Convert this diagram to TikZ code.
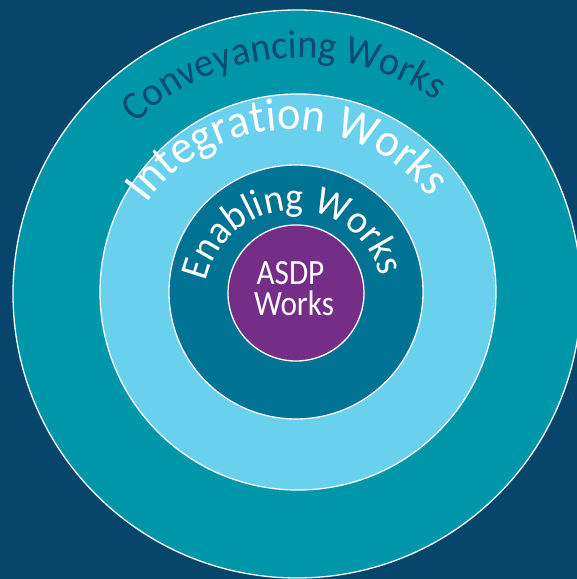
\documentclass[tikz,border=0pt]{standalone}
\usepackage{fontspec}
\setmainfont{Carlito}
\newfontfamily\arcfont[FakeStretch=0.95]{Carlito}
\newfontfamily\corefont[FakeStretch=0.88]{Carlito}
\usetikzlibrary{decorations.text}

\definecolor{navybg}{HTML}{07456D}
\definecolor{ringteal}{HTML}{0096AA}
\definecolor{ringlight}{HTML}{69D0EE}
\definecolor{ringdark}{HTML}{007293}
\definecolor{corepurple}{HTML}{742E88}
\definecolor{convtext}{HTML}{0C4A72}

\newdimen\labw
\newsavebox\labbox
% font size that makes #2 exactly #3 pt long, stored in #1
\newcommand\fitfont[3]{%
  \sbox\labbox{\arcfont\fontsize{10}{10}\selectfont #2}%
  \labw=\wd\labbox
  \pgfmathsetmacro#1{10*#3/\labw}}
\AtBeginDocument{%
  \fitfont\convsize{Conveyancing Works}{322}%
  \fitfont\intsize{Integration Works}{324}%
  \fitfont\enabsize{Enabling Works}{238}}

\tikzset{
  ring/.style={circle, draw=white, line width=1.3pt, inner sep=0pt},
  arclabel/.style={decorate, decoration={text along path, text align=center}},
  corelabel/.style={text=white, inner sep=0pt, anchor=base,
    font=\corefont\fontsize{35.5}{35.5}\selectfont},
}

\begin{document}
\begin{tikzpicture}[x=1pt, y=1pt]
  \useasboundingbox (0,0) rectangle (577,579);
  \clip (0,0) rectangle (577,579);
  \fill[navybg] (0,0) rectangle (577,579);

  % concentric rings, outermost first
  \node[ring, fill=ringteal,   minimum size=568pt] (conveyancing) at (297,285) {};
  \node[ring, fill=ringlight,  minimum size=396pt] (integration)  at (298,287) {};
  \node[ring, fill=ringdark,   minimum size=254pt] (enabling)     at (296,287) {};
  \node[ring, fill=corepurple, minimum size=136pt] (asdp)         at (296,286) {};

  % ring titles set along arcs
  \path[arclabel, decoration={text={|\arcfont\fontsize{\convsize}{\convsize}\selectfont\color{convtext}|Conveyancing Works}}]
    (299.5,283.7) ++(184.35:237.5) arc[start angle=184.35, end angle=4.35, radius=237.5];
  \path[arclabel, decoration={text={|\arcfont\fontsize{\intsize}{\intsize}\selectfont\color{white}|Integration Works}}]
    (290.2,271.8) ++(181.2:177.3) arc[start angle=181.2, end angle=1.2, radius=177.3];
  \path[arclabel, decoration={text={|\arcfont\fontsize{\enabsize}{\enabsize}\selectfont\color{white}|Enabling Works}}]
    (294,279) ++(181.6:89.6) arc[start angle=181.6, end angle=1.6, radius=89.6];

  % core label, two lines
  \node[corelabel] (asdptop) at (290.5,294) {ASDP};
  \node[corelabel] (asdpbot) at (294,263) {Works};
\end{tikzpicture}
\end{document}
